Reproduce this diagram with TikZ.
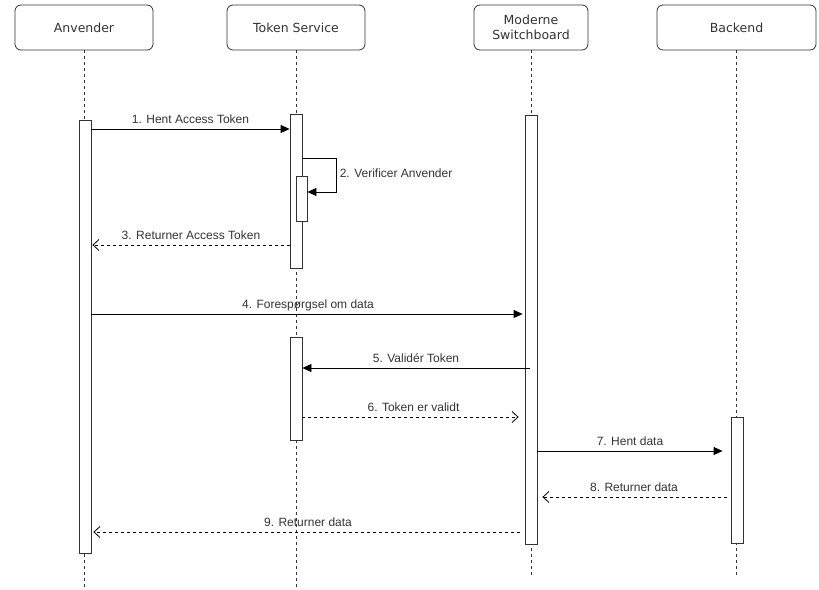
\documentclass[tikz,border=0pt]{standalone}
\usepackage{fontspec}
\setmainfont{Liberation Sans}
\newfontfamily\headfont{DejaVu Sans}
\usetikzlibrary{arrows.meta}
\definecolor{txt}{HTML}{333333}
\begin{document}
\begin{tikzpicture}[x=1pt,y=-1pt,
    head/.style={draw=txt, rounded corners=6pt, minimum width=138pt, minimum height=45pt, align=center,
      font=\headfont\fontsize{12.5}{15}\selectfont, text=txt, line width=0.8pt},
    life/.style={draw=txt, dash pattern=on 3pt off 3pt, line width=0.8pt},
    bar/.style={draw=txt, fill=white, minimum width=12pt, inner sep=0pt, anchor=north, line width=0.8pt},
    msg/.style={-{Triangle[length=9pt,width=8pt]}, line width=0.8pt},
    ret/.style={-{Straight Barb[length=6pt,width=11pt]}, dash pattern=on 3pt off 3pt, line width=0.8pt},
    lbl/.style={font=\fontsize{12}{14}\selectfont, text=txt, text height=8.5pt, text depth=2.5pt, inner sep=0pt, above=3pt}]
  \useasboundingbox (0,0) rectangle (819,589);

  \node[head] (anv) at (84,27.5) {Anvender};
  \node[head] (tok) at (296,27.5) {Token Service};
  \node[head, minimum width=114pt] (msw) at (531,27.5) {Moderne\\Switchboard};
  \node[head, minimum width=159pt] (bck) at (736.5,27.5) {Backend};

  \coordinate (anvend) at (84,589);
  \coordinate (tokend) at (296,589);
  \coordinate (mswend) at (531,577);
  \coordinate (bckend) at (736.5,577);
  \draw[life] (anv) -- (anvend);
  \draw[life] (tok) -- (tokend);
  \draw[life] (msw) -- (mswend);
  \draw[life] (bck) -- (bckend);

  \node[bar, minimum height=433pt] (anvbar) at (85,120) {};
  \node[bar, minimum height=154pt] (tokbar) at (296,114) {};
  \node[bar, minimum width=11pt, minimum height=45pt] (tokself) at (301.5,176) {};
  \node[bar, minimum height=103pt] (tokbartwo) at (296,337) {};
  \node[bar, minimum height=429pt] (mswbar) at (531,115) {};
  \node[bar, minimum height=126pt] (bckbar) at (737,417) {};

  \coordinate (m1) at (0,129);
  \coordinate (m2) at (0,158);
  \coordinate (m2b) at (0,192);
  \coordinate (m3) at (0,245);
  \coordinate (m4) at (0,314);
  \coordinate (m5) at (0,368);
  \coordinate (m6) at (0,417);
  \coordinate (m7) at (0,451);
  \coordinate (m8) at (0,497);
  \coordinate (m9) at (0,532);

  \draw[msg] (anvbar.east |- m1) -- node[lbl]{1. Hent Access Token} (tokbar.west |- m1);
  \draw[msg] (tokbar.east |- m2) -- ++(34,0) -- ++(0,34)
    node[midway, right=3pt, font=\fontsize{12}{14}\selectfont, text=txt, inner sep=0pt, yshift=2pt]{2. Verificer Anvender}
    -- (tokself.east |- m2b);
  \draw[ret] (tokbar.west |- m3) -- node[lbl]{3. Returner Access Token} ([xshift=1pt]anvbar.east |- m3);
  \draw[msg, shorten >=2pt] (anvbar.east |- m4) -- node[lbl]{4. Forespørgsel om data} (mswbar.west |- m4);
  \draw[msg] ([xshift=5pt]mswbar.west |- m5) -- node[lbl]{5. Validér Token} (tokbartwo.east |- m5);
  \draw[ret, shorten >=6pt] (tokbartwo.east |- m6) -- node[lbl]{6. Token er validt} (mswbar.west |- m6);
  \draw[msg, shorten >=8pt] (mswbar.east |- m7) -- node[lbl, xshift=-4pt]{7. Hent data} (bckbar.west |- m7);
  \draw[ret, shorten <=4pt, shorten >=5pt] (bckbar.west |- m8) -- node[lbl]{8. Returner data} (mswbar.east |- m8);
  \draw[ret, shorten <=5pt, shorten >=2pt] (mswbar.west |- m9) -- node[lbl]{9. Returner data} (anvbar.east |- m9);
\end{tikzpicture}
\end{document}
